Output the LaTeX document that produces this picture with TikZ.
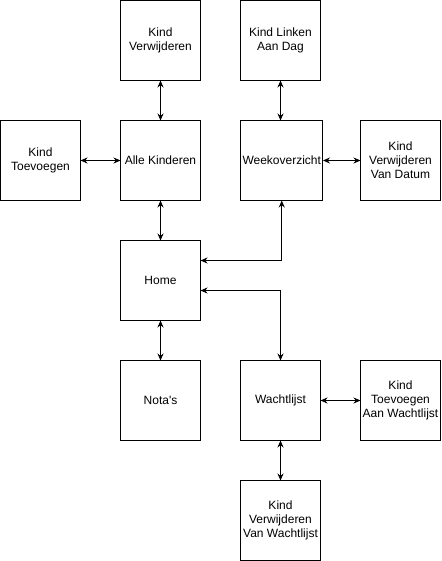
\documentclass[tikz,border=0pt]{standalone}
\usepackage{fontspec}
\setmainfont{Liberation Sans}
\usetikzlibrary{arrows.meta}
\begin{document}
\begin{tikzpicture}[x=1pt,y=-1pt,
  box/.style={draw=black,line width=1pt,minimum width=80pt,minimum height=80pt,inner sep=2pt,align=center,font=\fontsize{12}{14}\selectfont,anchor=north west,outer sep=0pt},
  link/.style={line width=1pt,{Stealth[length=7pt,width=6pt]}-{Stealth[length=7pt,width=6pt]}}]
\useasboundingbox (0,0) rectangle (441,561);
\node[box] (kv) at (120.5,0.5) {Kind\\Verwijderen};
\node[box] (kl) at (240.5,0.5) {Kind Linken\\Aan Dag};
\node[box] (kt) at (0.5,120.5) {Kind\\Toevoegen};
\node[box] (ak) at (120.5,120.5) {Alle Kinderen};
\node[box] (wo) at (240.5,120.5) {Weekoverzicht};
\node[box] (kvd) at (360.5,120.5) {Kind\\Verwijderen\\Van Datum};
\node[box] (home) at (120.5,240.5) {Home};
\node[box] (nota) at (120.5,360.5) {Nota\textquotesingle s};
\node[box] (wl) at (240.5,360.5) {Wachtlijst};
\node[box] (ktw) at (360.5,360.5) {Kind\\Toevoegen\\Aan Wachtlijst};
\node[box] (kvw) at (240.5,480.5) {Kind\\Verwijderen\\Van Wachtlijst};
\draw[link] (kv.south) -- (kv.south |- ak.north);
\draw[link] (kl.south) -- (kl.south |- wo.north);
\draw[link] (kt.east) -- (kt.east -| ak.west);
\draw[link] (wo.east) -- (wo.east -| kvd.west);
\draw[link] (ak.south) -- (ak.south |- home.north);
\draw[link] (home.south) -- (home.south |- nota.north);
\draw[link] (wl.east) -- (wl.east -| ktw.west);
\draw[link] (wl.south) -- (wl.south |- kvw.north);
\draw[link] ([yshift=20pt]home.east) -| (wo.south);
\draw[link] ([yshift=-10pt]home.east) -| (wl.north);
\end{tikzpicture}
\end{document}
